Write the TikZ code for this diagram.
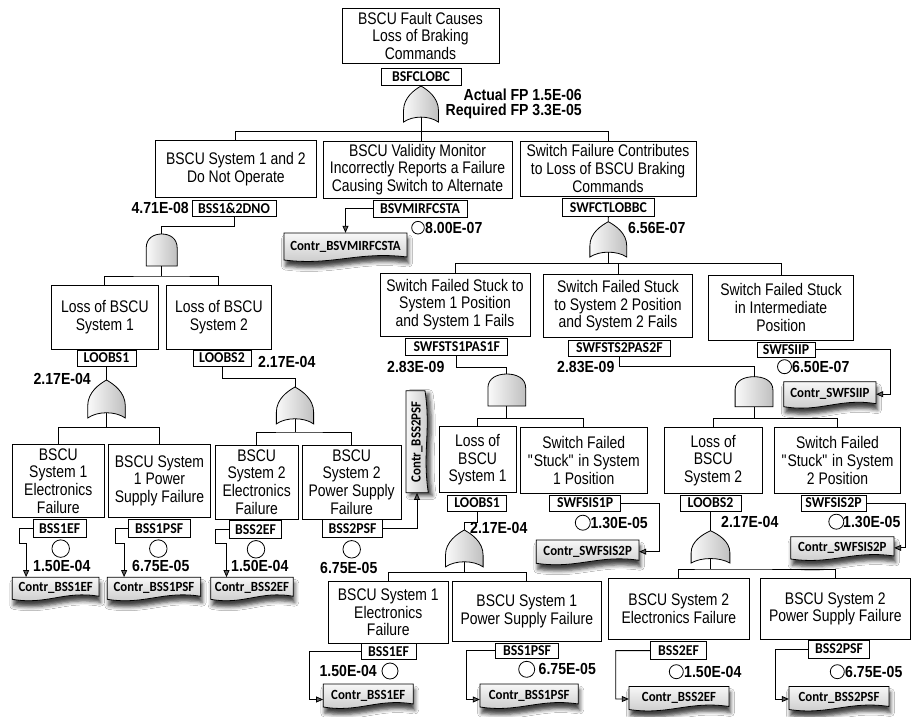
\documentclass[tikz,border=0pt]{standalone}
\usepackage{fontspec}
\setmainfont[FakeStretch=0.83]{Liberation Sans}
\newfontfamily\labfont[FakeStretch=0.92]{Carlito}
\newfontfamily\numfont[FakeStretch=0.88]{Liberation Sans}
\usetikzlibrary{arrows.meta,shadows.blur,calc}
\tikzset{
  evt/.style={draw, line width=0.8pt, inner sep=0pt, align=center, fill=white, font=\fontsize{16.8}{17.7}\selectfont},
  lab/.style={draw, line width=0.8pt, inner sep=0pt, fill=white, font=\labfont\bfseries\fontsize{15}{15}\selectfont},
  num/.style={inner sep=0pt, font=\numfont\bfseries\fontsize{16}{16}\selectfont},
  ctext/.style={inner sep=0pt, font=\labfont\bfseries\fontsize{14}{14}\selectfont},
  wire/.style={line width=0.8pt},
  arr/.style={line width=0.8pt, -{Triangle[length=7pt,width=6pt]}},
  gatefill/.style={left color=gray!4, right color=gray!50, draw=black, line width=0.8pt},
  cfill/.style={top color=gray!6, bottom color=gray!45, draw=black, line width=0.8pt,
     blur shadow={shadow xshift=1.5pt, shadow yshift=-6pt, shadow blur radius=4pt, shadow opacity=75}},
  cfillv/.style={left color=gray!6, right color=gray!45, draw=black, line width=0.8pt,
     blur shadow={shadow xshift=4pt, shadow yshift=-3pt, shadow blur radius=4pt, shadow opacity=75}},
  prob/.style={draw, line width=0.8pt, fill=white, circle, inner sep=0pt},
  orgate/.pic={\shade[gatefill] (0,0) .. controls (-7,4) and (-19,12) .. (-19,26) -- (-19,38) .. controls (-9,31) and (9,31) .. (19,38) -- (19,26) .. controls (19,12) and (7,4) .. (0,0) -- cycle;
     \coordinate (-out) at (0,0); \coordinate (-in) at (0,32.8);},
  andgate/.pic={\shade[gatefill] (-18,32) -- (-18,14) .. controls (-18,4) and (-9,0) .. (0,0) .. controls (9,0) and (18,4) .. (18,14) -- (18,32) -- cycle;
     \coordinate (-out) at (0,0); \coordinate (-in) at (0,32);},
}
\newcommand\ebox[6]{\node[evt, minimum width={(#4-#2)*1pt}, minimum height={(#5-#3)*1pt}] (#1) at ({(#2+#4)/2},{(#3+#5)/2}) {#6};}
\newcommand\lbox[6]{\node[lab, minimum width={(#4-#2)*1pt}, minimum height={(#5-#3)*1pt}] (#1) at ({(#2+#4)/2},{(#3+#5)/2}) {#6};}
\newcommand\cbox[6]{%
  \shade[cfill] (#2,#3) -- (#4,#3) -- (#4,#5-3) .. controls +({-0.4*(#4-#2)},-6) and +({0.4*(#4-#2)},6) .. (#2,#5) -- cycle;
  \node[ctext, minimum width={(#4-#2)*1pt}, minimum height={(#5-#3)*1pt}] (#1) at ({(#2+#4)/2},{(#3+#5)/2}) {#6};}
\begin{document}
\begin{tikzpicture}[x=1pt,y=-1pt]
\fill[white] (0,0) rectangle (914,717);
\useasboundingbox (0,0) rectangle (914,717);

% ---------- top ----------
\ebox{t0}{342}{8.3}{499}{63.3}{BSCU Fault Causes\\Loss of Braking\\Commands}
\lbox{l0}{381}{68.3}{461}{85}{BSFCLOBC}
\pic[xscale=0.92,yscale=0.95] (g0) at (421,86) {orgate};
\draw[wire] (l0.south) -- (g0-out);
\node[num, anchor=base east] (fp1) at (582,100.6) {Actual FP 1.5E-06};
\node[num, anchor=base east] (fp2) at (582,115) {Required FP 3.3E-05};

% ---------- level 2 ----------
\ebox{b1}{155.7}{140.7}{316}{197}{BSCU System 1 and 2\\Do Not Operate}
\lbox{l1}{192}{200.7}{276}{216.7}{BSS1\&2DNO}
\node[num, anchor=base east] (n1) at (189,213.6) {4.71E-08};
\ebox{b2}{323}{141}{512}{198}{BSCU Validity Monitor\\Incorrectly Reports a Failure\\Causing Switch to Alternate}
\lbox{l2}{373}{200}{467}{217}{BSVMIRFCSTA}
\node[prob, minimum size=12.6pt] (p2) at (418,227.7) {};
\node[num, anchor=base west] (n2) at (425,233.3) {8.00E-07};
\ebox{b3}{520}{141}{696}{196}{Switch Failure Contributes\\to Loss of BSCU Braking\\Commands}
\lbox{l3}{562.7}{198}{654}{216.7}{SWFCTLOBBC}
\node[num, anchor=base west] (n3) at (628,233.3) {6.56E-07};

\coordinate (k0) at (421,131.7);
\draw[wire] (g0-in) -- (g0-in |- b2.north);
\draw[wire] (b1.north) |- (k0) -| (b3.north);

\cbox{cB}{284}{233}{407}{260}{Contr\_BSVMIRFCSTA}
\draw[arr] (l2.west) -| (cB.north);

% ---------- left branch ----------
\pic[xscale=0.86] (g1) at (161.7,234) {andgate};
\draw[wire] (l1.south) -- ++(0,9.3) -| (g1-out);
\ebox{b11}{51.7}{285}{158}{349}{Loss of BSCU\\System 1}
\ebox{b12}{166.7}{285}{271}{349}{Loss of BSCU\\System 2}
\coordinate (k1) at (161.7,276);
\draw[wire] (g1-in) -- (k1);
\draw[wire] (b11.north) |- (k1) -| (b12.north);
\lbox{l11}{77}{350}{136}{366}{LOOBS1}
\lbox{l12}{193}{350}{251}{366}{LOOBS2}
\node[num, anchor=base east] (n11) at (91,384.6) {2.17E-04};
\node[num, anchor=base west] (n12) at (258,367.6) {2.17E-04};

\pic[xscale=0.99,yscale=1.0] (g11) at (106.5,380) {orgate};
\draw[wire] (l11.south) -- (g11-out);
\pic[xscale=0.98,yscale=0.97] (g12) at (295,387) {orgate};
\draw[wire] (l12.south) -- ++(0,12.3) -| (g12-out);

\ebox{b111}{12.3}{444}{104.3}{517.7}{BSCU\\System 1\\Electronics\\Failure}
\ebox{b112}{108.3}{444}{210.7}{517.7}{BSCU System\\1 Power\\Supply Failure}
\ebox{b121}{215}{445}{298.3}{519}{BSCU\\System 2\\Electronics\\Failure}
\ebox{b122}{302.3}{445}{401}{519}{BSCU\\System 2\\Power Supply\\Failure}
\coordinate (k11) at (106.5,427.3);
\draw[wire] (g11-in) -- (k11);
\draw[wire] (b111.north) |- (k11) -| (b112.north);
\coordinate (k12) at (295,432);
\draw[wire] (g12-in) -- (k12);
\draw[wire] (b121.north) |- (k12) -| (b122.north);

\lbox{l111}{33.3}{519.5}{86}{537.5}{BSS1EF}
\lbox{l112}{128.3}{519.5}{190}{537.5}{BSS1PSF}
\lbox{l121}{229.3}{520.5}{281.7}{538.5}{BSS2EF}
\lbox{l122}{322.7}{519.5}{382.3}{537}{BSS2PSF}
\node[prob, minimum size=17.5pt] (p111) at (60.7,548.6) {};
\node[prob, minimum size=17.5pt] (p112) at (158.3,548.6) {};
\node[prob, minimum size=17.5pt] (p121) at (256,549.3) {};
\node[prob, minimum size=17.5pt] (p122) at (351.7,549.3) {};
\node[num, anchor=base west] (n111) at (33,571.6) {1.50E-04};
\node[num, anchor=base west] (n112) at (132,571.6) {6.75E-05};
\node[num, anchor=base west] (n121) at (231,571.6) {1.50E-04};
\node[num, anchor=base west] (n122) at (320,573.3) {6.75E-05};

\cbox{c111}{12.3}{577.3}{99}{599.3}{Contr\_BSS1EF}
\cbox{c112}{107.3}{577.3}{200.7}{599.3}{Contr\_BSS1PSF}
\cbox{c121}{210.7}{577.3}{293.3}{599.3}{Contr\_BSS2EF}
\draw[arr] (l111.west) -| (19,543) -| ($(c111.north west)+(14,0)$);
\draw[arr] (l112.west) -| (115,543) -| ($(c112.north west)+(17,0)$);
\draw[arr] (l121.west) -| (215,543) -| ($(c121.north west)+(16,0)$);

% vertical Contr_BSS2PSF
\shade[cfillv] (406,390.7) -- (425,390.7) .. controls +(6,40) and +(-6,-40) .. (428.3,492.7) -- (406,492.7) -- cycle;
\node[ctext, rotate=90, minimum width=102pt, minimum height=22pt] (c122) at (417,441.7) {Contr\_BSS2PSF};
\draw[arr] (l122.east) -| (c122.west);

% ---------- right branch ----------
\pic[xscale=0.97,yscale=0.93] (g3) at (608.3,221.7) {orgate};
\draw[wire] (l3.south) -- (g3-out);
\ebox{b31}{380}{273.3}{530}{336}{Switch Failed Stuck to\\System 1 Position\\and System 1 Fails}
\ebox{b32}{543.7}{274}{692.3}{337.7}{Switch Failed Stuck\\to System 2 Position\\and System 2 Fails}
\ebox{b33}{708.6}{275}{853.6}{340}{Switch Failed Stuck\\in Intermediate\\Position}
\coordinate (k3) at (608.3,263.3);
\draw[wire] (g3-in) -- (k3);
\draw[wire] (b31.north) |- (k3) -| (b33.north);
\draw[wire] (b32.north) -- (b32.north |- k3);

\lbox{l31}{405.7}{338.5}{507.7}{355}{SWFSTS1PAS1F}
\lbox{l32}{568.5}{340}{670.3}{356}{SWFSTS2PAS2F}
\lbox{l33}{757}{342.3}{815}{357.3}{SWFSIIP}
\node[num, anchor=base west] (n31) at (387,372.3) {2.83E-09};
\node[num, anchor=base west] (n32) at (557,372.3) {2.83E-09};
\node[prob, minimum size=14pt] (p33) at (784.5,366.7) {};
\node[num, anchor=base west] (n33) at (792,372.3) {6.50E-07};
\cbox{c33}{783.8}{381.7}{876}{406.7}{Contr\_SWFSIIP}
\draw[arr] (l33.east) -- (890.8,349.8) |- (c33.east);

\pic[xscale=1.05] (g31) at (506.8,374) {andgate};
\draw[wire] (l31.south) -- ++(0,11.7) -| (g31-out);
\pic[xscale=1.05,yscale=0.94] (g32) at (754,376.7) {andgate};
\draw[wire] (l32.south) -- ++(0,9.5) -| (g32-out);

\ebox{b311}{439.2}{426.7}{516}{492.7}{Loss of\\BSCU\\System 1}
\ebox{b312}{520}{427.7}{647.5}{493.3}{Switch Failed\\\textquotedbl Stuck\textquotedbl{} in System\\1 Position}
\ebox{b321}{663.9}{427.7}{762.5}{493.3}{Loss of\\BSCU\\System 2}
\ebox{b322}{774.3}{427.7}{900.7}{493.3}{Switch Failed\\\textquotedbl Stuck\textquotedbl{} in System\\2 Position}
\coordinate (k31) at (506.8,418.3);
\draw[wire] (g31-in) -- (k31);
\draw[wire] (b311.north) |- (k31) -| (b312.north);
\coordinate (k32) at (754,418.3);
\draw[wire] (g32-in) -- (k32);
\draw[wire] (b321.north) |- (k32) -| (b322.north);

\lbox{l311}{447.6}{495}{506.6}{511}{LOOBS1}
\lbox{l312}{549.6}{495}{620.8}{511}{SWFSIS1P}
\lbox{l321}{680}{495}{741}{511}{LOOBS2}
\lbox{l322}{801}{495}{866}{511}{SWFSIS2P}
\node[num, anchor=base west] (n311) at (470,533.9) {2.17E-04};
\node[prob, minimum size=15pt] (p312) at (582.8,522.7) {};
\node[num, anchor=base west] (n312) at (590.4,528.3) {1.30E-05};
\node[num, anchor=base west] (n321) at (721,527.3) {2.17E-04};
\node[prob, minimum size=15pt] (p322) at (836.3,521.7) {};
\node[num, anchor=base west] (n322) at (843,527.3) {1.30E-05};

\cbox{c312}{536.3}{540}{639}{563.3}{Contr\_SWFSIS2P}
\cbox{c322}{790.7}{536.7}{894}{559}{Contr\_SWFSIS2P}
\draw[arr] (l312.east) -- (659,503) |- (c312.east);
\draw[arr] (l322.east) -- (905.7,503) |- (c322.east);

\pic[xscale=0.99,yscale=0.97] (g311) at (464.3,530) {orgate};
\draw[wire] (l311.south) -- ++(0,10.7) -| (g311-out);
\pic[xscale=1.02,yscale=0.85] (g321) at (710.5,530.7) {orgate};
\draw[wire] (l321.south) -- (g321-out);

\ebox{b3111}{328.3}{581.7}{448.3}{643.3}{BSCU System 1\\Electronics\\Failure}
\ebox{b3112}{452.7}{581}{601}{641.7}{BSCU System 1\\Power Supply Failure}
\ebox{b3211}{608}{578.3}{749.7}{639.3}{BSCU System 2\\Electronics Failure}
\ebox{b3212}{760.7}{578.3}{910}{639.3}{BSCU System 2\\Power Supply Failure}
\coordinate (k311) at (464.3,572.7);
\draw[wire] (g311-in) -- (k311);
\draw[wire] (b3111.north) |- (k311) -| (b3112.north);
\coordinate (k321) at (710.5,569);
\draw[wire] (g321-in) -- (k321);
\draw[wire] (b3211.north) |- (k321) -| (b3212.north);

\lbox{l3111}{361}{643.3}{416}{659.3}{BSS1EF}
\lbox{l3112}{495.7}{643.3}{558.3}{658.3}{BSS1PSF}
\lbox{l3211}{650.7}{641.7}{706.3}{659.5}{BSS2EF}
\lbox{l3212}{808.3}{640}{869.7}{658}{BSS2PSF}
\node[prob, minimum size=16pt] (p3111) at (390,671) {};
\node[prob, minimum size=16pt] (p3112) at (526.7,669.3) {};
\node[prob, minimum size=14pt] (p3211) at (676.3,671.7) {};
\node[prob, minimum size=14pt] (p3212) at (837.3,671.7) {};
\node[num, anchor=base east] (n3111) at (377,676.6) {1.50E-04};
\node[num, anchor=base west] (n3112) at (538.5,674.9) {6.75E-05};
\node[num, anchor=base west] (n3211) at (684,677.3) {1.50E-04};
\node[num, anchor=base west] (n3212) at (845,677.3) {6.75E-05};

\cbox{c3111}{323.3}{684}{413.3}{707}{Contr\_BSS1EF}
\cbox{c3112}{480}{684}{578.3}{707}{Contr\_BSS1PSF}
\cbox{c3211}{629}{686.5}{729}{709.5}{Contr\_BSS2EF}
\cbox{c3212}{789}{686.5}{889}{709.5}{Contr\_BSS2PSF}
\draw[arr] (l3111.west) -- (309.3,651.3) |- ($(c3111.west)+(0,4)$);
\draw[arr] (l3112.west) -- (466.7,650.8) |- ($(c3112.west)+(0,4)$);
\draw[arr] (l3211.west) -- (615.7,650.6) |- ($(c3211.west)+(0,1)$);
\draw[arr] (l3212.west) -- (775.7,649) |- ($(c3212.west)+(0,1)$);
\end{tikzpicture}
\end{document}
